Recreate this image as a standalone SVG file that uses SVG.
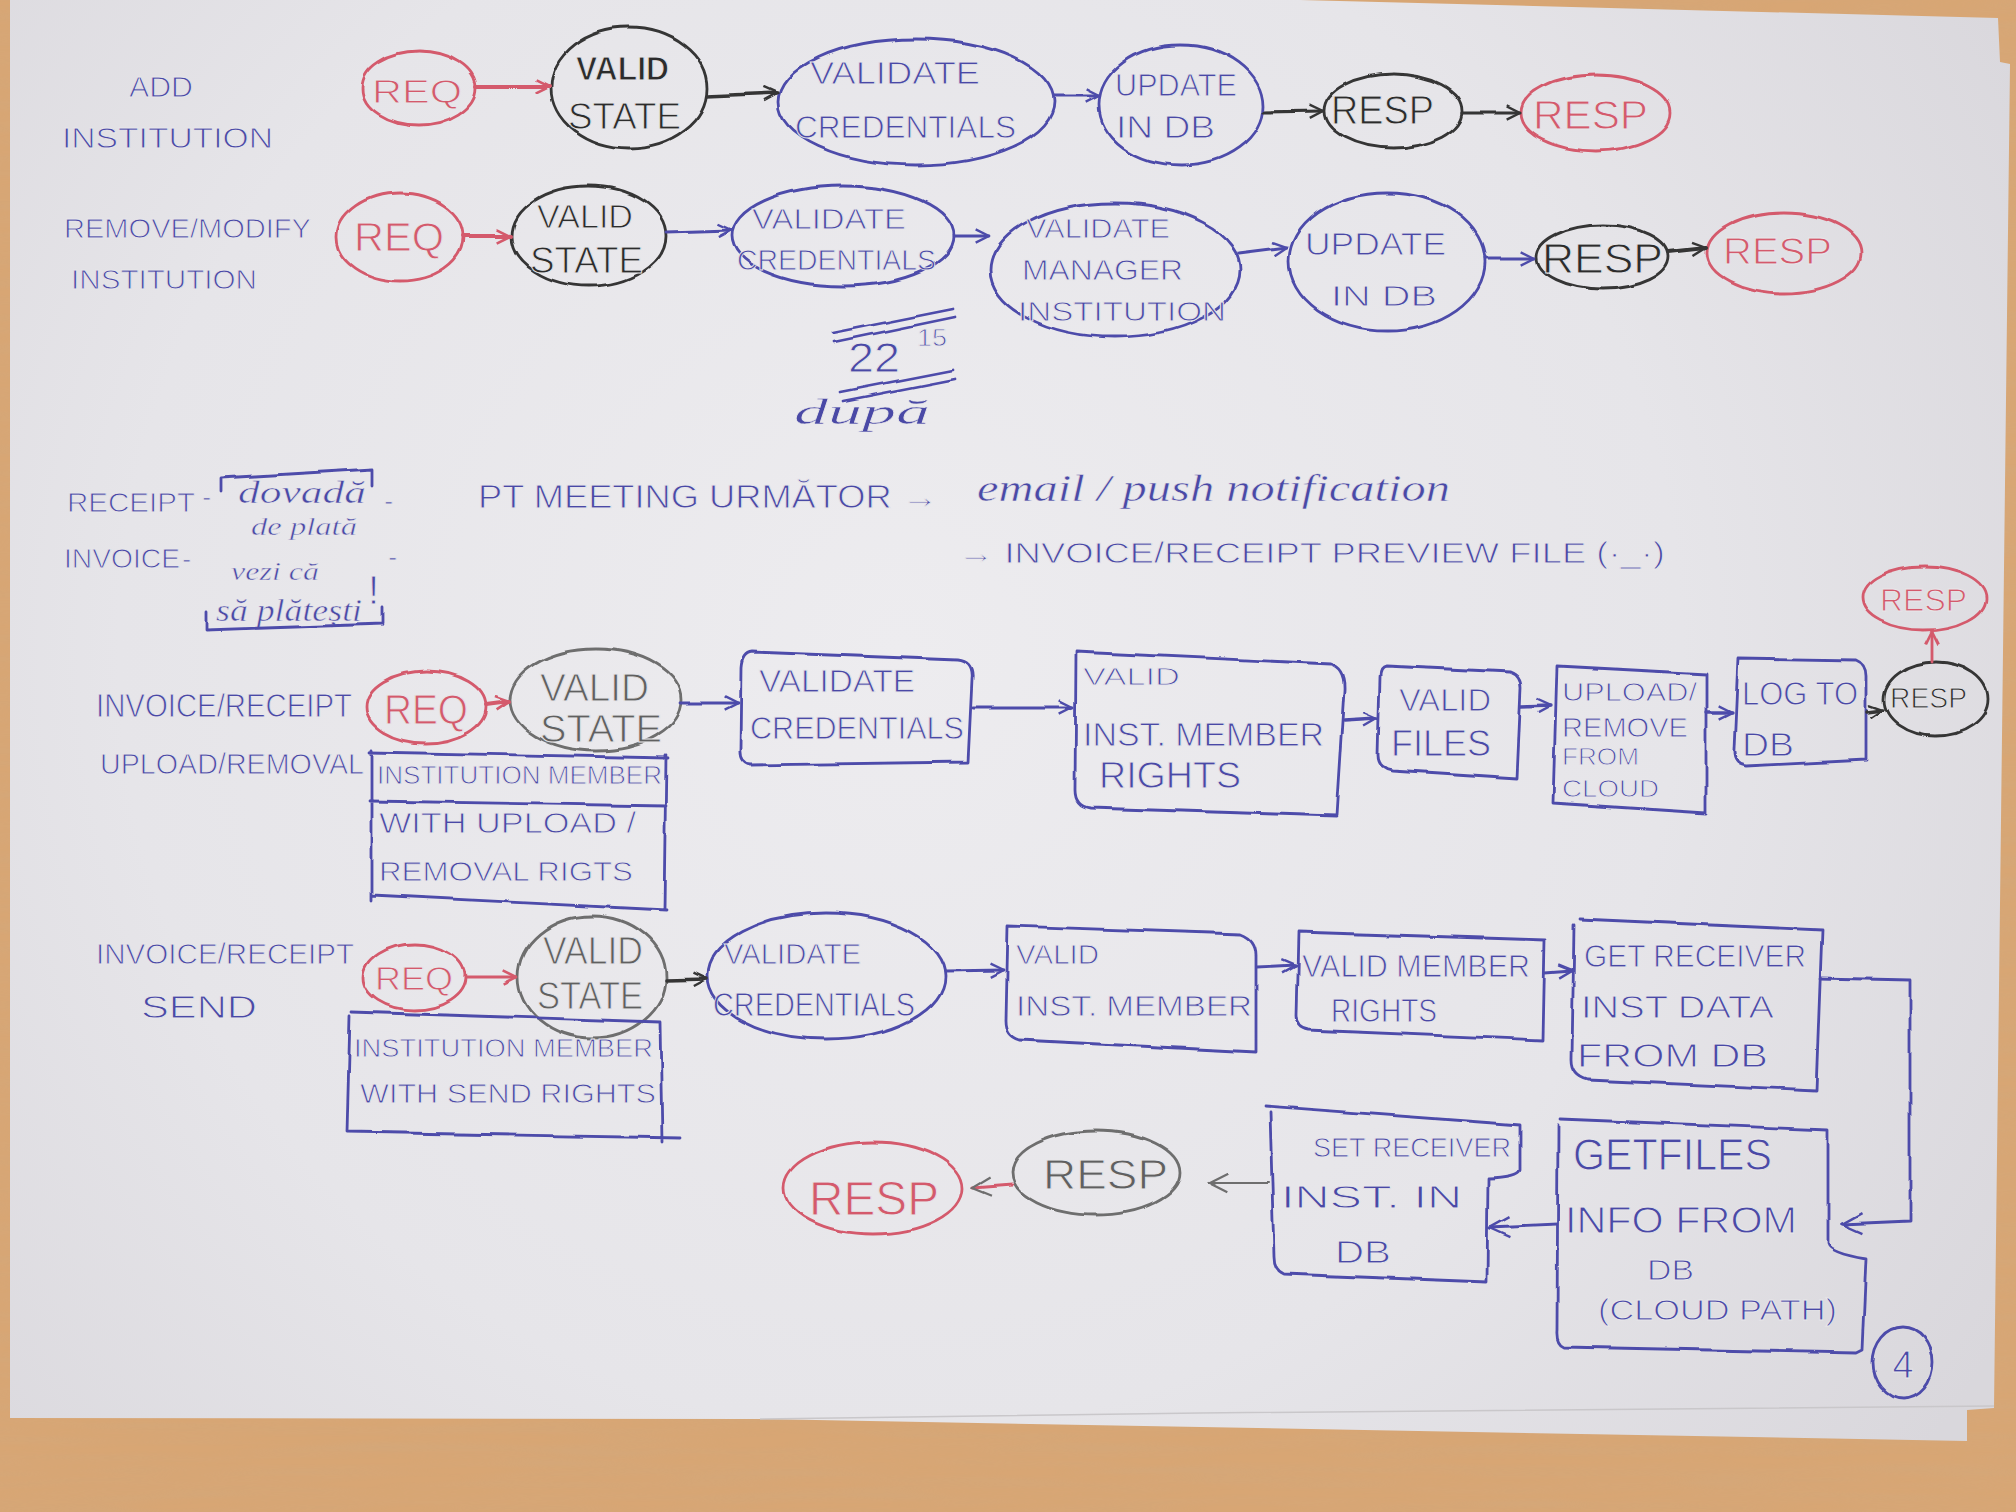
<svg xmlns="http://www.w3.org/2000/svg" width="2016" height="1512" viewBox="0 0 2016 1512">
<defs>
<style>
.s{fill:none;stroke-width:2.8;stroke-linecap:round;stroke-linejoin:round}
.b{stroke:#4d4caa}.r{stroke:#d45a6c}.k{stroke:#353535}.g{stroke:#6e6e6e}
text{font-family:"Liberation Sans","DejaVu Sans",sans-serif;stroke:#e8e7ea;stroke-width:0.9px}
.tb{fill:#4a49a6}.tr{fill:#d45a6c}.tk{fill:#2c2c2c}.tg{fill:#606060}
.sc{font-family:"Liberation Serif","DejaVu Serif",serif;font-style:italic;stroke-width:0.5px}
</style>
<radialGradient id="paper" cx="900" cy="650" r="1300" gradientUnits="userSpaceOnUse">
<stop offset="0" stop-color="#edecef"/><stop offset="0.6" stop-color="#e6e5e9"/><stop offset="1" stop-color="#d9d7dc"/>
</radialGradient>
<filter id="rough" filterUnits="userSpaceOnUse" x="0" y="0" width="2016" height="1512">
<feTurbulence type="fractalNoise" baseFrequency="0.025" numOctaves="2" seed="4"/>
<feDisplacementMap in="SourceGraphic" scale="5" xChannelSelector="R" yChannelSelector="G"/>
</filter>
<filter id="grain" filterUnits="userSpaceOnUse" x="0" y="0" width="2016" height="1512">
<feTurbulence type="fractalNoise" baseFrequency="0.006 0.09" numOctaves="2" seed="7"/>
<feColorMatrix type="matrix" values="0 0 0 0 0.62  0 0 0 0 0.40  0 0 0 0 0.22  0 0 0 1.2 -0.35"/>
</filter>
<marker id="ab" viewBox="0 0 12 12" refX="11" refY="6" markerWidth="16" markerHeight="16" markerUnits="userSpaceOnUse" orient="auto"><path d="M1,1 L11,6 L1,11" fill="none" stroke="#4d4caa" stroke-width="1.8"/></marker>
<marker id="ar" viewBox="0 0 12 12" refX="11" refY="6" markerWidth="16" markerHeight="16" markerUnits="userSpaceOnUse" orient="auto"><path d="M1,1 L11,6 L1,11" fill="none" stroke="#d45a6c" stroke-width="2"/></marker>
<marker id="ak" viewBox="0 0 12 12" refX="11" refY="6" markerWidth="16" markerHeight="16" markerUnits="userSpaceOnUse" orient="auto"><path d="M1,1 L11,6 L1,11" fill="none" stroke="#353535" stroke-width="1.8"/></marker>
<marker id="ag" viewBox="0 0 12 12" refX="11" refY="6" markerWidth="22" markerHeight="22" markerUnits="userSpaceOnUse" orient="auto"><path d="M1,1 L11,6 L1,11" fill="none" stroke="#6e6e6e" stroke-width="1.2"/></marker>
<marker id="ab2" viewBox="0 0 12 12" refX="11" refY="6" markerWidth="24" markerHeight="24" markerUnits="userSpaceOnUse" orient="auto"><path d="M1,1 L11,6 L1,11" fill="none" stroke="#4d4caa" stroke-width="1.2"/></marker>
</defs>

<!-- table and paper -->
<rect x="0" y="0" width="2016" height="1512" fill="#d8a674"/>
<rect x="0" y="0" width="2016" height="1512" filter="url(#grain)" opacity="0.5"/>
<polygon points="10,0 1300,0 1998,18 2000,62 2010,64 1994,1408 1967,1410 1967,1441 760,1419 10,1418" fill="url(#paper)"/>
<polyline points="760,1419 1200,1413 1994,1406" fill="none" stroke="#c9c7ca" stroke-width="1.5"/>

<g id="labels">
<text class="tb" x="129" y="97" font-size="30" textLength="64" lengthAdjust="spacingAndGlyphs">ADD</text>
<text class="tb" x="62" y="148" font-size="30" textLength="211" lengthAdjust="spacingAndGlyphs">INSTITUTION</text>
<text class="tb" x="64" y="238" font-size="28" textLength="247" lengthAdjust="spacingAndGlyphs">REMOVE/MODIFY</text>
<text class="tb" x="71" y="289" font-size="28" textLength="186" lengthAdjust="spacingAndGlyphs">INSTITUTION</text>
<text class="tb" x="96" y="717" font-size="34" textLength="256" lengthAdjust="spacingAndGlyphs">INVOICE/RECEIPT</text>
<text class="tb" x="100" y="774" font-size="30" textLength="264" lengthAdjust="spacingAndGlyphs">UPLOAD/REMOVAL</text>
<text class="tb" x="96" y="964" font-size="30" textLength="258" lengthAdjust="spacingAndGlyphs">INVOICE/RECEIPT</text>
<text class="tb" x="141" y="1018" font-size="32" textLength="116" lengthAdjust="spacingAndGlyphs">SEND</text>
</g>

<g id="note-time">
<g class="s b" filter="url(#rough)" stroke-width="2.2">
<line x1="833" y1="333" x2="953" y2="309"/><line x1="835" y1="342" x2="955" y2="317"/>
<line x1="840" y1="392" x2="953" y2="370"/><line x1="843" y1="401" x2="955" y2="379"/>
</g>
<text class="tb" x="848" y="372" font-size="42" textLength="52" lengthAdjust="spacingAndGlyphs">22</text>
<text class="tb" x="917" y="346" font-size="24" textLength="30" lengthAdjust="spacingAndGlyphs">15</text>
<text class="tb sc" x="794" y="424" font-size="36" textLength="136" lengthAdjust="spacingAndGlyphs">după</text>
</g>

<g id="note-receipt">
<text class="tb" x="67" y="512" font-size="28" textLength="128" lengthAdjust="spacingAndGlyphs">RECEIPT</text>
<text class="tb" x="202" y="506" font-size="28">-</text>
<text class="tb sc" x="238" y="503" font-size="32" textLength="128" lengthAdjust="spacingAndGlyphs">dovadă</text>
<text class="tb" x="384" y="510" font-size="28">-</text>
<text class="tb sc" x="251" y="535" font-size="26" textLength="106" lengthAdjust="spacingAndGlyphs">de plată</text>
<text class="tb" x="64" y="568" font-size="28" textLength="116" lengthAdjust="spacingAndGlyphs">INVOICE</text>
<text class="tb" x="182" y="568" font-size="28">-</text>
<text class="tb sc" x="231" y="580" font-size="26" textLength="88" lengthAdjust="spacingAndGlyphs">vezi că</text>
<text class="tb" x="368" y="604" font-size="40">!</text>
<text class="tb" x="388" y="566" font-size="28">-</text>
<text class="tb sc" x="216" y="621" font-size="32" textLength="146" lengthAdjust="spacingAndGlyphs">să plătești</text>
<g class="s b" filter="url(#rough)" stroke-width="2.6">
<polyline points="221,492 221,478 373,469 373,486"/>
<polyline points="206,612 206,630 383,624 383,608"/>
</g>
<text class="tb" x="478" y="508" font-size="34" textLength="460" lengthAdjust="spacingAndGlyphs">PT  MEETING  URMĂTOR →</text>
<text class="tb sc" x="977" y="501" font-size="38" textLength="473" lengthAdjust="spacingAndGlyphs">email / push notification</text>
<text class="tb" x="958" y="563" font-size="30" textLength="707" lengthAdjust="spacingAndGlyphs">→ INVOICE/RECEIPT PREVIEW FILE (·_·)</text>
</g>

<!-- ROW 1 -->
<g id="r1-req"><ellipse class="s r" filter="url(#rough)" cx="419" cy="88" rx="57" ry="37"/>
<text class="tr" x="372" y="103" font-size="34" textLength="90" lengthAdjust="spacingAndGlyphs">REQ</text></g>
<g id="r1-valid-state"><ellipse class="s k" filter="url(#rough)" cx="629" cy="88" rx="78" ry="60" stroke-width="3.2"/>
<text class="tk" x="576" y="80" font-size="34" font-weight="bold" textLength="93" lengthAdjust="spacingAndGlyphs">VALID</text>
<text class="tk" x="568" y="129" font-size="36" textLength="113" lengthAdjust="spacingAndGlyphs">STATE</text></g>
<g id="r1-validate-credentials"><ellipse class="s b" filter="url(#rough)" cx="916" cy="102" rx="138" ry="63"/>
<text class="tb" x="810" y="84" font-size="32" textLength="170" lengthAdjust="spacingAndGlyphs">VALIDATE</text>
<text class="tb" x="795" y="138" font-size="32" textLength="221" lengthAdjust="spacingAndGlyphs">CREDENTIALS</text></g>
<g id="r1-update-db"><ellipse class="s b" filter="url(#rough)" cx="1181" cy="105" rx="82" ry="60"/>
<text class="tb" x="1115" y="96" font-size="32" textLength="122" lengthAdjust="spacingAndGlyphs">UPDATE</text>
<text class="tb" x="1116" y="138" font-size="32" textLength="99" lengthAdjust="spacingAndGlyphs">IN DB</text></g>
<g id="r1-resp"><ellipse class="s k" filter="url(#rough)" cx="1393" cy="111" rx="69" ry="37" stroke-width="3.2"/>
<text class="tk" x="1331" y="124" font-size="40" textLength="103" lengthAdjust="spacingAndGlyphs">RESP</text></g>
<g id="r1-resp-out"><ellipse class="s r" filter="url(#rough)" cx="1596" cy="113" rx="75" ry="38"/>
<text class="tr" x="1533" y="129" font-size="40" textLength="115" lengthAdjust="spacingAndGlyphs">RESP</text></g>

<!-- ROW 2 -->
<g id="r2-req"><ellipse class="s r" filter="url(#rough)" cx="400" cy="237" rx="63" ry="44"/>
<text class="tr" x="354" y="251" font-size="40" textLength="90" lengthAdjust="spacingAndGlyphs">REQ</text></g>
<g id="r2-valid-state"><ellipse class="s k" filter="url(#rough)" cx="589" cy="236" rx="77" ry="50" stroke-width="3"/>
<text class="tk" x="537" y="228" font-size="34" textLength="96" lengthAdjust="spacingAndGlyphs">VALID</text>
<text class="tk" x="530" y="273" font-size="36" textLength="113" lengthAdjust="spacingAndGlyphs">STATE</text></g>
<g id="r2-validate-credentials"><ellipse class="s b" filter="url(#rough)" cx="843" cy="236" rx="111" ry="50"/>
<text class="tb" x="752" y="229" font-size="30" textLength="154" lengthAdjust="spacingAndGlyphs">VALIDATE</text>
<text class="tb" x="737" y="270" font-size="30" textLength="199" lengthAdjust="spacingAndGlyphs">CREDENTIALS</text></g>
<g id="r2-validate-manager"><ellipse class="s b" filter="url(#rough)" cx="1115" cy="270" rx="125" ry="67"/>
<text class="tb" x="1026" y="238" font-size="28" textLength="144" lengthAdjust="spacingAndGlyphs">VALIDATE</text>
<text class="tb" x="1022" y="280" font-size="30" textLength="161" lengthAdjust="spacingAndGlyphs">MANAGER</text>
<text class="tb" x="1018" y="321" font-size="28" textLength="208" lengthAdjust="spacingAndGlyphs">INSTITUTION</text></g>
<g id="r2-update-db"><ellipse class="s b" filter="url(#rough)" cx="1387" cy="262" rx="98" ry="69"/>
<text class="tb" x="1305" y="255" font-size="32" textLength="141" lengthAdjust="spacingAndGlyphs">UPDATE</text>
<text class="tb" x="1331" y="306" font-size="30" textLength="106" lengthAdjust="spacingAndGlyphs">IN DB</text></g>
<g id="r2-resp"><ellipse class="s k" filter="url(#rough)" cx="1603" cy="257" rx="66" ry="32" stroke-width="3.2"/>
<text class="tk" x="1542" y="273" font-size="42" textLength="121" lengthAdjust="spacingAndGlyphs">RESP</text></g>
<g id="r2-resp-out"><ellipse class="s r" filter="url(#rough)" cx="1784" cy="253" rx="77" ry="40"/>
<text class="tr" x="1723" y="264" font-size="36" textLength="109" lengthAdjust="spacingAndGlyphs">RESP</text></g>

<!-- ROW 3 -->
<g id="r3-req"><ellipse class="s r" filter="url(#rough)" cx="426" cy="707" rx="60" ry="36"/>
<text class="tr" x="384" y="724" font-size="42" textLength="84" lengthAdjust="spacingAndGlyphs">REQ</text></g>
<g id="r3-valid-state"><ellipse class="s g" filter="url(#rough)" cx="596" cy="700" rx="86" ry="51" stroke="#555"/>
<text class="tg" x="540" y="701" font-size="38" textLength="109" lengthAdjust="spacingAndGlyphs" fill="#3d3d3d">VALID</text>
<text class="tg" x="540" y="742" font-size="38" textLength="122" lengthAdjust="spacingAndGlyphs" fill="#3d3d3d">STATE</text></g>
<g id="r3-member-rights-note"><path class="s b" filter="url(#rough)" d="M370,752 L668,758 M370,801 L666,806 M372,750 L372,900 M372,895 L666,910 M666,756 L664,910" stroke-width="2.6"/>
<text class="tb" x="377" y="784" font-size="26" textLength="285" lengthAdjust="spacingAndGlyphs">INSTITUTION MEMBER</text>
<text class="tb" x="379" y="833" font-size="30" textLength="257" lengthAdjust="spacingAndGlyphs">WITH UPLOAD /</text>
<text class="tb" x="379" y="881" font-size="28" textLength="254" lengthAdjust="spacingAndGlyphs">REMOVAL RIGTS</text></g>
<g id="r3-validate-credentials"><path class="s b" filter="url(#rough)" d="M752,652 L958,660 Q974,662 972,680 L968,762 L750,765 Q739,764 740,750 L741,668 Q742,653 752,652 Z"/>
<text class="tb" x="759" y="692" font-size="32" textLength="156" lengthAdjust="spacingAndGlyphs">VALIDATE</text>
<text class="tb" x="750" y="739" font-size="32" textLength="214" lengthAdjust="spacingAndGlyphs">CREDENTIALS</text></g>
<g id="r3-valid-member-rights"><path class="s b" filter="url(#rough)" d="M1076,652 L1330,664 Q1345,668 1344,690 L1336,816 L1090,808 Q1075,806 1075,790 Z"/>
<text class="tb" x="1083" y="685" font-size="24" textLength="97" lengthAdjust="spacingAndGlyphs">VALID</text>
<text class="tb" x="1083" y="746" font-size="34" textLength="241" lengthAdjust="spacingAndGlyphs">INST. MEMBER</text>
<text class="tb" x="1099" y="788" font-size="36" textLength="142" lengthAdjust="spacingAndGlyphs">RIGHTS</text></g>
<g id="r3-valid-files"><path class="s b" filter="url(#rough)" d="M1386,666 L1510,672 Q1521,676 1521,688 L1517,778 L1392,770 Q1378,768 1378,755 L1380,676 Q1380,667 1386,666 Z"/>
<text class="tb" x="1399" y="711" font-size="32" textLength="92" lengthAdjust="spacingAndGlyphs">VALID</text>
<text class="tb" x="1391" y="756" font-size="36" textLength="100" lengthAdjust="spacingAndGlyphs">FILES</text></g>
<g id="r3-upload-remove"><path class="s b" filter="url(#rough)" d="M1557,666 L1706,674 L1706,813 L1553,803 Z"/>
<text class="tb" x="1562" y="701" font-size="26" textLength="135" lengthAdjust="spacingAndGlyphs">UPLOAD/</text>
<text class="tb" x="1562" y="737" font-size="28" textLength="126" lengthAdjust="spacingAndGlyphs">REMOVE</text>
<text class="tb" x="1562" y="765" font-size="24" textLength="77" lengthAdjust="spacingAndGlyphs">FROM</text>
<text class="tb" x="1562" y="797" font-size="24" textLength="97" lengthAdjust="spacingAndGlyphs">CLOUD</text></g>
<g id="r3-log-db"><path class="s b" filter="url(#rough)" d="M1738,658 L1856,660 Q1866,664 1866,676 L1866,760 L1746,766 Q1733,764 1734,750 Z"/>
<text class="tb" x="1742" y="705" font-size="34" textLength="116" lengthAdjust="spacingAndGlyphs">LOG TO</text>
<text class="tb" x="1742" y="756" font-size="34" textLength="52" lengthAdjust="spacingAndGlyphs">DB</text></g>
<g id="r3-resp"><ellipse class="s k" filter="url(#rough)" cx="1936" cy="699" rx="52" ry="37"/>
<text class="tk" x="1890" y="708" font-size="30" textLength="77" lengthAdjust="spacingAndGlyphs">RESP</text></g>
<g id="r3-resp-out"><ellipse class="s r" filter="url(#rough)" cx="1924" cy="598" rx="62" ry="32"/>
<text class="tr" x="1880" y="611" font-size="32" textLength="87" lengthAdjust="spacingAndGlyphs">RESP</text></g>

<!-- ROW 4 -->
<g id="r4-req"><ellipse class="s r" filter="url(#rough)" cx="414" cy="977" rx="51" ry="33"/>
<text class="tr" x="375" y="990" font-size="34" textLength="78" lengthAdjust="spacingAndGlyphs">REQ</text></g>
<g id="r4-valid-state"><ellipse class="s g" filter="url(#rough)" cx="592" cy="977" rx="74" ry="61"/>
<text class="tg" x="543" y="964" font-size="38" textLength="100" lengthAdjust="spacingAndGlyphs">VALID</text>
<text class="tg" x="537" y="1009" font-size="38" textLength="106" lengthAdjust="spacingAndGlyphs">STATE</text></g>
<g id="r4-member-rights-note"><path class="s b" filter="url(#rough)" d="M352,1012 L660,1022 M350,1016 L347,1132 M347,1132 L681,1138 M660,1022 L662,1142" stroke-width="2.6"/>
<text class="tb" x="354" y="1057" font-size="26" textLength="299" lengthAdjust="spacingAndGlyphs">INSTITUTION MEMBER</text>
<text class="tb" x="360" y="1103" font-size="28" textLength="296" lengthAdjust="spacingAndGlyphs">WITH  SEND RIGHTS</text></g>
<g id="r4-validate-credentials"><ellipse class="s b" filter="url(#rough)" cx="826" cy="976" rx="119" ry="63"/>
<text class="tb" x="724" y="964" font-size="30" textLength="137" lengthAdjust="spacingAndGlyphs">VALIDATE</text>
<text class="tb" x="713" y="1016" font-size="34" textLength="202" lengthAdjust="spacingAndGlyphs">CREDENTIALS</text></g>
<g id="r4-valid-inst-member"><path class="s b" filter="url(#rough)" d="M1008,926 L1240,934 Q1256,940 1256,956 L1256,1052 L1020,1040 Q1006,1036 1006,1020 Z"/>
<text class="tb" x="1016" y="964" font-size="28" textLength="83" lengthAdjust="spacingAndGlyphs">VALID</text>
<text class="tb" x="1016" y="1016" font-size="30" textLength="236" lengthAdjust="spacingAndGlyphs">INST. MEMBER</text></g>
<g id="r4-valid-member-rights"><path class="s b" filter="url(#rough)" d="M1298,932 L1545,940 L1543,1040 L1308,1030 Q1296,1028 1296,1016 Z"/>
<text class="tb" x="1302" y="977" font-size="32" textLength="228" lengthAdjust="spacingAndGlyphs">VALID MEMBER</text>
<text class="tb" x="1331" y="1022" font-size="34" textLength="106" lengthAdjust="spacingAndGlyphs">RIGHTS</text></g>
<g id="r4-get-receiver"><path class="s b" filter="url(#rough)" d="M1580,919 L1822,930 L1816,1090 L1588,1080 Q1572,1076 1572,1060 L1574,925"/>
<text class="tb" x="1584" y="967" font-size="32" textLength="222" lengthAdjust="spacingAndGlyphs">GET RECEIVER</text>
<text class="tb" x="1581" y="1018" font-size="32" textLength="193" lengthAdjust="spacingAndGlyphs">INST DATA</text>
<text class="tb" x="1577" y="1067" font-size="34" textLength="191" lengthAdjust="spacingAndGlyphs">FROM DB</text></g>
<g id="r4-get-files"><path class="s b" filter="url(#rough)" d="M1560,1119 L1828,1130 L1828,1243 Q1830,1252 1866,1258 L1862,1350 L1856,1353 L1564,1347 Q1556,1344 1557,1330 L1558,1125"/>
<text class="tb" x="1573" y="1170" font-size="44" textLength="199" lengthAdjust="spacingAndGlyphs">GETFILES</text>
<text class="tb" x="1565" y="1233" font-size="36" textLength="232" lengthAdjust="spacingAndGlyphs">INFO  FROM</text>
<text class="tb" x="1647" y="1280" font-size="30" textLength="47" lengthAdjust="spacingAndGlyphs">DB</text>
<text class="tb" x="1598" y="1320" font-size="30" textLength="239" lengthAdjust="spacingAndGlyphs">(CLOUD PATH)</text></g>
<g id="r4-set-receiver"><path class="s b" filter="url(#rough)" d="M1265,1106 L1520,1125 L1520,1170 Q1518,1177 1488,1178 L1487,1282 L1284,1274 Q1274,1270 1274,1256 L1270,1112"/>
<text class="tb" x="1313" y="1157" font-size="28" textLength="198" lengthAdjust="spacingAndGlyphs">SET RECEIVER</text>
<text class="tb" x="1281" y="1208" font-size="32" textLength="181" lengthAdjust="spacingAndGlyphs">INST.  IN</text>
<text class="tb" x="1335" y="1263" font-size="32" textLength="56" lengthAdjust="spacingAndGlyphs">DB</text></g>
<g id="r4-resp"><ellipse class="s g" filter="url(#rough)" cx="1096" cy="1173" rx="84" ry="42"/>
<text class="tg" x="1043" y="1189" font-size="42" textLength="125" lengthAdjust="spacingAndGlyphs">RESP</text></g>
<g id="r4-resp-out"><ellipse class="s r" filter="url(#rough)" cx="873" cy="1188" rx="89" ry="46" stroke="#e0909a"/>
<text class="tr" x="809" y="1215" font-size="48" textLength="130" lengthAdjust="spacingAndGlyphs" fill="#dd8490">RESP</text></g>

<g id="page-number"><ellipse class="s b" filter="url(#rough)" cx="1903" cy="1363" rx="30" ry="36"/>
<text class="tb" x="1903" y="1378" font-size="38" text-anchor="middle">4</text></g>

<g id="connectors" class="s" filter="url(#rough)">
<line class="r" x1="476" y1="87" x2="549" y2="87" stroke-width="4" marker-end="url(#ar)"/>
<line class="k" x1="707" y1="96" x2="777" y2="93" stroke-width="3.4" marker-end="url(#ak)"/>
<line class="b" x1="1054" y1="96" x2="1099" y2="96" marker-end="url(#ab)"/>
<line class="k" x1="1263" y1="112" x2="1323" y2="111" stroke-width="3.2" marker-end="url(#ak)"/>
<line class="k" x1="1462" y1="113" x2="1520" y2="113" stroke-width="3.2" marker-end="url(#ak)"/>

<line class="r" x1="463" y1="236" x2="511" y2="236" stroke-width="4" marker-end="url(#ar)"/>
<line class="b" x1="666" y1="232" x2="732" y2="230" marker-end="url(#ab)"/>
<line class="b" x1="954" y1="236" x2="989" y2="236" marker-end="url(#ab)"/>
<line class="b" x1="1239" y1="254" x2="1287" y2="248" marker-end="url(#ab)"/>
<line class="b" x1="1485" y1="258" x2="1535" y2="258" marker-end="url(#ab)"/>
<line class="k" x1="1669" y1="252" x2="1706" y2="248" stroke-width="4" marker-end="url(#ak)"/>

<line class="r" x1="486" y1="705" x2="509" y2="702" stroke-width="4" marker-end="url(#ar)"/>
<line class="b" x1="681" y1="703" x2="738" y2="703" marker-end="url(#ab)"/>
<line class="b" x1="973" y1="708" x2="1073" y2="708" marker-end="url(#ab)"/>
<line class="b" x1="1344" y1="720" x2="1377" y2="718" stroke-width="3.4" marker-end="url(#ab)"/>
<line class="b" x1="1521" y1="706" x2="1551" y2="705" stroke-width="3.4" marker-end="url(#ab)"/>
<line class="b" x1="1706" y1="713" x2="1732" y2="713" stroke-width="3.4" marker-end="url(#ab)"/>
<line class="k" x1="1867" y1="712" x2="1883" y2="710" stroke-width="3.4" marker-end="url(#ak)"/>
<line class="r" x1="1932" y1="662" x2="1932" y2="631" marker-end="url(#ar)"/>

<line class="r" x1="465" y1="977" x2="517" y2="977" marker-end="url(#ar)"/>
<line class="k" x1="666" y1="980" x2="706" y2="979" stroke-width="3.6" marker-end="url(#ak)"/>
<line class="b" x1="945" y1="971" x2="1004" y2="970" marker-end="url(#ab)"/>
<line class="b" x1="1257" y1="967" x2="1295" y2="965" marker-end="url(#ab)"/>
<line class="b" x1="1545" y1="972" x2="1572" y2="970" marker-end="url(#ab)"/>
<polyline class="b" points="1820,978 1910,980 1910,1222 1842,1225" marker-end="url(#ab2)"/>
<line class="b" x1="1557" y1="1225" x2="1490" y2="1228" marker-end="url(#ab2)"/>
<line class="g" x1="1268" y1="1183" x2="1210" y2="1183" stroke-width="2" marker-end="url(#ag)"/>
<line class="r" x1="1012" y1="1185" x2="972" y2="1188" stroke="#e0909a" marker-end="url(#ag)"/>
</g>
</svg>
